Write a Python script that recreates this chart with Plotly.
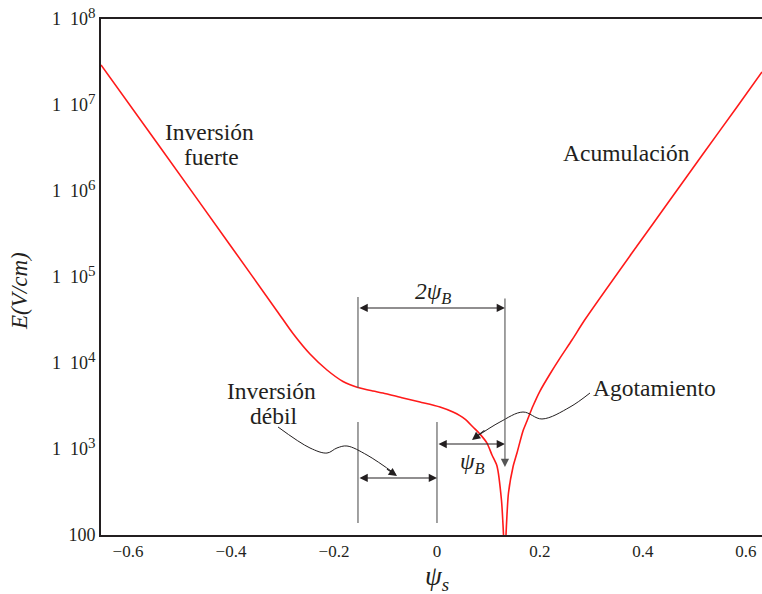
import plotly.graph_objects as go

# ---- data ----
psi_left = [-0.6524, -0.5379, -0.4019, -0.3107, -0.2796, -0.2466, -0.2136,
            -0.1825, -0.1534, -0.1243, -0.1049, -0.0660, -0.0330, 0.0058,
            0.0311, 0.0544, 0.0699, 0.0835, 0.0971, 0.1068, 0.1165, 0.1252,
            0.1282, 0.1301]
E_left = [2.92e7, 3.25e6, 2.36e5, 4.03e4, 2.20e4, 1.27e4, 8.29e3,
          6.10e3, 5.19e3, 4.72e3, 4.48e3, 3.92e3, 3.52e3, 3.08e3,
          2.69e3, 2.23e3, 1.80e3, 1.49e3, 1.17e3, 851, 634, 255,
          131, 77]
psi_right = [0.1330, 0.1340, 0.1359, 0.1388, 0.1476, 0.1553, 0.1670, 0.1748,
             0.1864, 0.2000, 0.2194, 0.2388, 0.2621, 0.2874, 0.3883, 0.4524,
             0.5165, 0.5825, 0.6311]
E_right = [77, 100, 171, 308, 618, 897, 1.62e3, 2.12e3,
           3.16e3, 4.72e3, 7.45e3, 1.14e4, 1.85e4, 3.20e4, 2.29e5, 7.85e5,
           2.69e6, 9.48e6, 2.42e7]

x_tickvals = [-0.6, -0.4, -0.2, 0, 0.2, 0.4, 0.6]
x_ticktext = ["\u22120.6", "\u22120.4", "\u22120.2", "0", "0.2", "0.4", "0.6"]
y_tickvals = [1e2, 1e3, 1e4, 1e5, 1e6, 1e7, 1e8]
y_ticktext = ["100"] + ["1\u00a0\u00a010<sup><span style='font-size:15px'>%d</span></sup>" % k
                        for k in range(3, 9)]

# annotation geometry (psi units / log10(E))
psi_2B_left, psi_0, psi_B_right = -0.1534, 0.0, 0.1320
deb_x = [-0.3087, -0.2466, -0.2136, -0.1942, -0.1748, -0.1359, -0.0800]
deb_logy = [3.256, 3.012, 2.953, 3.012, 3.035, 2.930, 2.705]
ago_x = [0.2971, 0.2583, 0.2039, 0.1670, 0.1223, 0.0710]
ago_logy = [3.651, 3.488, 3.349, 3.430, 3.314, 3.120]

TXT = "#231f20"
FONT = "Liberation Serif"
RED = "#ff1a1a"

fig = go.Figure()
for xs, ys in ((psi_left, E_left), (psi_right, E_right)):
    fig.add_trace(go.Scatter(x=xs, y=ys, mode="lines",
                             line=dict(color=RED, width=1.6, shape="spline", smoothing=0.7),
                             hoverinfo="skip"))

def vline(x, l0, l1, color="#555555"):
    fig.add_trace(go.Scatter(x=[x, x], y=[10 ** l0, 10 ** l1], mode="lines",
                             line=dict(color=color, width=1.1), hoverinfo="skip"))

vline(psi_2B_left, 4.767, 3.709)
vline(psi_2B_left, 3.314, 2.140)
vline(psi_0, 3.314, 2.140)

for xs, ls in ((deb_x, deb_logy), (ago_x, ago_logy)):
    fig.add_trace(go.Scatter(x=xs, y=[10 ** v for v in ls], mode="lines",
                             line=dict(color=TXT, width=1, shape="spline", smoothing=1.0),
                             hoverinfo="skip"))

annotations = []

def arrow(x, y, ax, ay, both=False, color=TXT):
    annotations.append(dict(x=x, y=y, ax=ax, ay=ay, xref="x", yref="y",
                            axref="x", ayref="y", text="", showarrow=True,
                            arrowhead=2, arrowsize=1.5, arrowwidth=1.1,
                            arrowcolor=color, standoff=0, startstandoff=0,
                            arrowside="end+start" if both else "end",
                            startarrowhead=2, startarrowsize=1.5))

arrow(psi_B_right, 4.640, psi_2B_left, 4.640, both=True)
arrow(psi_0, 2.663, psi_2B_left, 2.663, both=True)
arrow(psi_B_right, 3.058, psi_0, 3.058, both=True)
arrow(psi_B_right, 2.791, psi_B_right, 4.767, color="#555555")
# heads of the wavy leaders
arrow(-0.0777, 2.686, -0.1000, 2.780)
arrow(0.0680, 3.105, 0.0950, 3.230)

def label(text, x, y, size=23.5):
    annotations.append(dict(x=x, y=y, xref="x", yref="y", text=text, showarrow=False,
                            xanchor="center", yanchor="middle",
                            font=dict(family=FONT, size=size, color=TXT)))

label("Inversión", -0.4408, 6.686)
label("fuerte", -0.4369, 6.395)
label("Acumulación", 0.3689, 6.442)
label("Inversión", -0.3204, 3.674)
label("débil", -0.3184, 3.384)
label("Agotamiento", 0.4233, 3.709)
label("<i>2ψ</i><sub><i>B</i></sub>", -0.0078, 4.814)
label("<i>ψ</i><sub><i>B</i></sub>", 0.0699, 2.837)

annotations.append(dict(x=-0.1225, y=0.473, xref="paper", yref="paper",
                        xanchor="center", yanchor="middle",
                        text="<i>E(V/cm)</i>", textangle=-90, showarrow=False,
                        font=dict(family=FONT, size=23, color=TXT)))
annotations.append(dict(x=0, y=-0.0833, xref="x", yref="paper",
                        xanchor="center", yanchor="middle",
                        text="<i>ψ</i><sub><i>s</i></sub>", showarrow=False,
                        font=dict(family=FONT, size=27, color=TXT)))

fig.update_layout(
    width=762, height=594,
    margin=dict(l=101, r=0, t=19, b=59),
    paper_bgcolor="white", plot_bgcolor="white",
    showlegend=False,
    annotations=annotations,
    xaxis=dict(range=[-0.6524, 0.6311], tickvals=x_tickvals, ticktext=x_ticktext,
               showgrid=False, zeroline=False, ticks="", showline=True,
               linecolor=TXT, linewidth=2, mirror=True,
               tickfont=dict(family=FONT, size=17, color=TXT)),
    yaxis=dict(type="log", range=[2, 8], tickvals=y_tickvals, ticktext=y_ticktext,
               showgrid=False, zeroline=False, ticks="", showline=True,
               linecolor=TXT, linewidth=2, mirror=False,
               tickfont=dict(family=FONT, size=18, color=TXT)),
)

fig.write_html("out.html")
